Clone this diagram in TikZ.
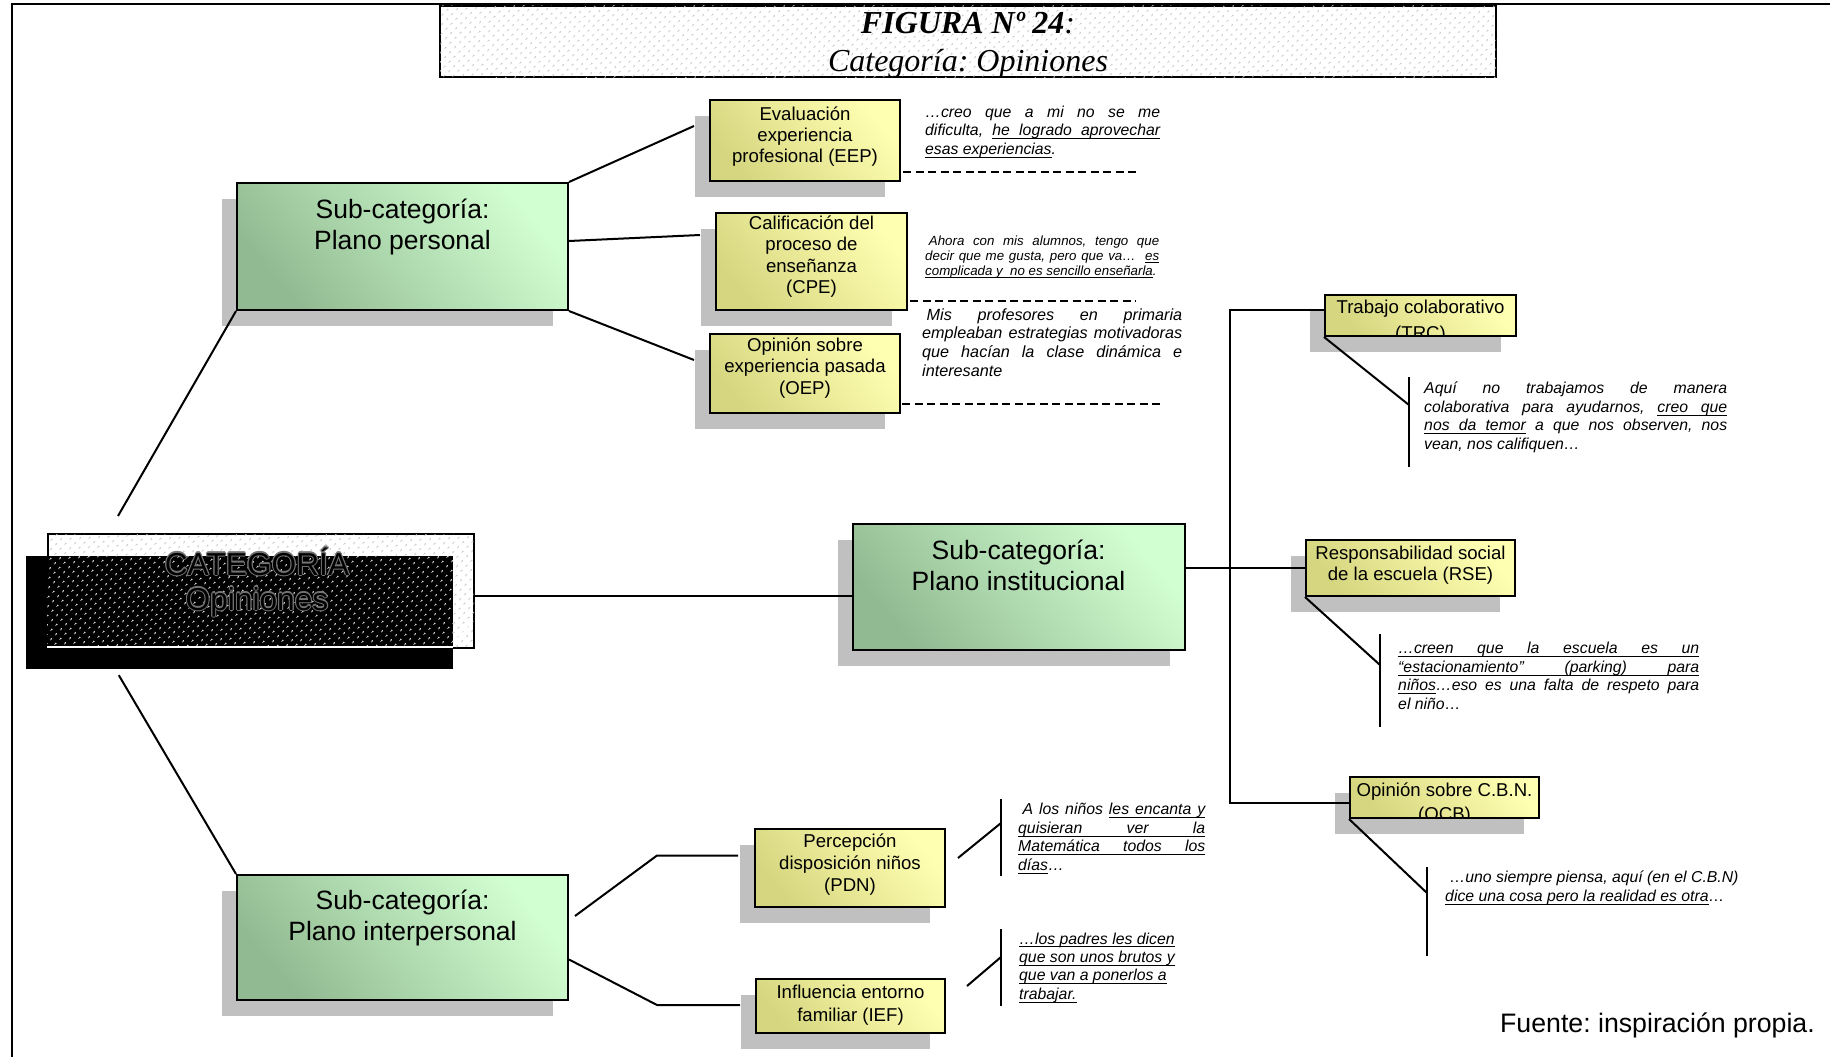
\documentclass[tikz,border=0pt]{standalone}
\usepackage{fontspec}
\setmainfont{Liberation Sans}
\newfontfamily\titlefont{Liberation Serif}
\usetikzlibrary{calc,patterns.meta}

\definecolor{shadowc}{RGB}{192,192,192}
\definecolor{gdark}{RGB}{146,186,146}
\definecolor{glight}{RGB}{210,255,210}
\definecolor{ydark}{RGB}{214,214,128}
\definecolor{ylight}{RGB}{255,255,178}
\definecolor{dotc}{RGB}{196,196,196}

\frenchspacing

% justified quote lines: stretchable spaces, plain or underlined
\newdimen\qwidth
\newcommand\js{\hskip .278em plus 1fill\relax}
\newcommand\ujs{\leaders\hrule height -0.15em depth 0.22em\hskip .278em plus 1fill\relax}
\newcommand\uw[1]{\setbox0\hbox{#1}\rlap{\rule[-0.22em]{\wd0}{0.07em}}\box0}
\newcommand\jl[1]{\hbox to \qwidth{#1}}
\newcommand\ql[2]{\qwidth=#1\relax\vtop{#2}}
% centred multi-line label whose baseline is that of its first line
\newcommand\cl[1]{\vtop{\halign{\hfil##\hfil\cr#1\crcr}}}

\tikzset{
  conn/.style={line width=2pt},
  dashline/.style={line width=2pt, dash pattern=on 8pt off 4.5pt},
  gbox/.style={draw=black, line width=2pt, inner sep=0pt,
    bottom color=gdark, top color=glight, shading angle=-50},
  ybox/.style={draw=black, line width=2pt, inner sep=0pt,
    bottom color=ydark, top color=ylight, shading angle=-50},
  dotbox/.style={draw=black, line width=2pt, inner sep=0pt, fill=white,
    postaction={pattern={Dots[distance=6.5pt,angle=45,radius=1.1pt]}, pattern color=dotc}},
  glabel/.style={anchor=base, inner sep=0pt, font=\fontsize{26.5pt}{31.5pt}\selectfont},
  ylabel/.style={anchor=base, inner sep=0pt, font=\fontsize{18.6pt}{21.5pt}\selectfont},
  quote/.style={anchor=base west, inner sep=0pt, font=\fontsize{15.8pt}{18.7pt}\selectfont\itshape},
  cattext/.style={anchor=base, inner sep=0pt, font=\fontsize{31.7pt}{35pt}\selectfont},
}

% shadowed box: name, style, x1, y1, x2, y2
\newcommand\panel[6]{%
  \fill[shadowc] ({#3-15},{#4+16}) rectangle ({#5-15},{#6+16});
  \node[#2, minimum width={#5-#3}, minimum height={#6-#4}] (#1) at ({(#3+#5)/2},{(#4+#6)/2}) {};
}

\begin{document}
\begin{tikzpicture}[x=1pt,y=-1pt]
\useasboundingbox (0,0) rectangle (1830,1057);

% page frame
\draw[line width=2pt] (12,1057) -- (12,4) -- (1830,4);

% heading
\node[dotbox, minimum width=1056pt, minimum height=71pt] (head) at (968,41.5) {};
\node[anchor=base, inner sep=0pt, font=\titlefont\fontsize{32pt}{38pt}\selectfont\bfseries\itshape]
  (head1) at (968,33.5) {FIGURA Nº 24\textmd{:}};
\node[anchor=base, inner sep=0pt, font=\titlefont\fontsize{32pt}{38pt}\selectfont\itshape]
  (head2) at (968,71) {Categoría: Opiniones};

% main category box with its black offset block
\node[dotbox, minimum width=426pt, minimum height=114pt] (cat) at (261,591) {};
\node[fill=black, inner sep=0pt, minimum width=427pt, minimum height=113pt] (blk) at (239.5,612.5) {};
\fill[pattern={Dots[distance=6.5pt,angle=45,radius=1.1pt]}, pattern color=white]
  (cat.west |- blk.north) rectangle (453,645);
\draw[white, line width=1.5pt] (cat.west |- 0,647) -- (453,647);
\foreach \a in {0,45,...,315}
  \node[cattext, text=black!55] (cat-o\a) at ($(257,575)+(\a:1.1)$) {\cl{CATEGORÍA\cr Opiniones}};
\node[cattext] (cat-t) at (257,575) {\cl{CATEGORÍA\cr Opiniones}};

% sub-category and code boxes
\panel{pp}{gbox}{237}{183}{568}{310}
\panel{pi}{gbox}{853}{524}{1185}{650}
\panel{pint}{gbox}{237}{875}{568}{1000}
\panel{eep}{ybox}{710}{100}{900}{181}
\panel{cpe}{ybox}{716}{213}{907}{310}
\panel{oep}{ybox}{710}{334}{900}{413}
\panel{trc}{ybox}{1325}{295}{1516}{336}
\panel{rse}{ybox}{1306}{540}{1515}{596}
\panel{ocb}{ybox}{1350}{777}{1539}{818}
\panel{pdn}{ybox}{755}{829}{945}{907}
\panel{ief}{ybox}{756}{979}{945}{1033}

% connectors: personal plane
\draw[conn] (pp.north east) -- ($(eep.west)+(-15,-14.5)$);
\draw[conn] ($(pp.east)+(0,-5.5)$) -- ($(cpe.west)+(-15,-26.5)$);
\draw[conn] (pp.south east) -- ($(oep.west)+(-15,-13.5)$);
\draw[conn] (pp.south west) -- ($(cat.north west)+(71,-17)$);
\draw[conn] ($(blk.south west)+(93,6)$) -- (pint.north west);
\draw[conn] ($(cat.east)+(0,5)$) -- ($(pi.west)+(0,9)$);

% connectors: institutional plane
\draw[conn] (pi.east |- rse.west) -- (rse.west);
\draw[conn] ($(trc.west)+(0,-5.5)$) -- ++(-94,0) |- ($(ocb.west)+(0,5.5)$);
\coordinate (trc-j) at ($(trc.south west)+(85,68)$);
\coordinate (trc-a) at ($(trc.south west)+(85,40)$);
\coordinate (trc-b) at ($(trc.south west)+(85,130)$);
\draw[conn] (trc.south west) -- (trc-j);
\draw[conn] (trc-a) -- (trc-b);
\coordinate (rse-j) at ($(rse.south west)+(75,68)$);
\coordinate (rse-a) at ($(rse.south west)+(75,37)$);
\coordinate (rse-b) at ($(rse.south west)+(75,130)$);
\draw[conn] (rse.south west) -- (rse-j);
\draw[conn] (rse-a) -- (rse-b);
\coordinate (ocb-j) at ($(ocb.south west)+(78,74)$);
\coordinate (ocb-a) at ($(ocb.south west)+(78,48)$);
\coordinate (ocb-b) at ($(ocb.south west)+(78,137)$);
\draw[conn] (ocb.south west) -- (ocb-j);
\draw[conn] (ocb-a) -- (ocb-b);

% connectors: interpersonal plane
\draw[conn] ($(pint.east)+(6,-21.5)$) -- ($(pdn.west)+(-97,-12.5)$) -- ($(pdn.west)+(-16,-12.5)$);
\draw[conn] ($(pint.east)+(0,22)$) -- ($(ief.west)+(-98,-1)$) -- ($(ief.west)+(-15,-1)$);
\draw[conn] ($(pdn.east)+(12,-10)$) -- ($(pdn.east)+(55,-45)$);
\draw[conn] ($(pdn.east)+(55,-69)$) -- ($(pdn.east)+(55,8)$);
\draw[conn] ($(ief.east)+(21,-20)$) -- ($(ief.east)+(55,-49)$);
\draw[conn] ($(ief.east)+(55,-77)$) -- ($(ief.east)+(55,0)$);

% dashed rules under the personal-plane quotes
\draw[dashline] ($(eep.east)+(2,31)$) -- ++(236,0);
\draw[dashline] ($(cpe.east)+(2,39)$) -- ++(226,0);
\draw[dashline] ($(oep.east)+(1,30.5)$) -- ++(259,0);

% box labels
\node[glabel] (pp-t) at (402.5,218) {\cl{Sub-categoría:\cr Plano personal}};
\node[glabel] (pi-t) at (1018.5,559) {\cl{Sub-categoría:\cr Plano institucional}};
\node[glabel] (pint-t) at (402.5,909) {\cl{Sub-categoría:\cr Plano interpersonal}};
\node[ylabel, font=\fontsize{18.6pt}{21pt}\selectfont] (eep-t) at (805,120) {\cl{Evaluación\cr experiencia\cr profesional (EEP)}};
\node[ylabel] (cpe-t) at (811.5,229) {\cl{Calificación del\cr proceso de\cr enseñanza\cr (CPE)}};
\node[ylabel] (oep-t) at (805,351) {\cl{Opinión sobre\cr experiencia pasada\cr (OEP)}};
\node[ylabel, font=\fontsize{18.6pt}{21pt}\selectfont] (rse-t) at (1410.5,559) {\cl{Responsabilidad social\cr de la escuela (RSE)}};
\node[ylabel, font=\fontsize{18.6pt}{22pt}\selectfont] (pdn-t) at (850,847) {\cl{Percepción\cr disposición niños\cr (PDN)}};
\node[ylabel, font=\fontsize{18.6pt}{23pt}\selectfont] (ief-t) at (850.5,998) {\cl{Influencia entorno\cr familiar (IEF)}};
\begin{scope}
  \clip ($(trc.north west)+(1,1)$) rectangle ($(trc.south east)+(-1,-1)$);
  \node[ylabel, font=\fontsize{18.6pt}{26pt}\selectfont] (trc-t) at (1420.5,313.5) {\cl{Trabajo colaborativo\cr(TRC)}};
\end{scope}
\begin{scope}
  \clip ($(ocb.north west)+(1,1)$) rectangle ($(ocb.south east)+(-1,-1)$);
  \node[ylabel, font=\fontsize{18.6pt}{24pt}\selectfont] (ocb-t) at (1444.5,796) {\cl{Opinión sobre C.B.N.\cr(OCB)}};
\end{scope}

% interview quotes
\node[quote] (q-eep) at (925,117) {\ql{235pt}{%
  \jl{…creo\js que\js a\js mi\js no\js se\js me}
  \jl{dificulta,\js \uw{he}\ujs\uw{logrado}\ujs\uw{aprovechar}}
  \hbox{\uw{esas experiencias}.}}};
\node[quote, font=\fontsize{13.3pt}{14.9pt}\selectfont\itshape] (q-cpe) at (925,245.5) {\ql{234pt}{%
  \jl{\hskip .278em Ahora\js con\js mis\js alumnos,\js tengo\js que}
  \jl{decir\js que\js me\js gusta,\js pero\js que\js va…\js\js\uw{es}}
  \hbox{\uw{complicada y\ \ no es sencillo enseñarla}.}}};
\node[quote, font=\fontsize{16.2pt}{18.8pt}\selectfont\itshape] (q-oep) at (922,320) {\ql{260pt}{%
  \jl{\hskip .278em Mis\js profesores\js en\js primaria}
  \jl{empleaban\js estrategias\js motivadoras}
  \jl{que\js hacían\js la\js clase\js dinámica\js e}
  \hbox{interesante}}};
\node[quote] (q-trc) at (1424,393.5) {\ql{303pt}{%
  \jl{Aquí\js no\js trabajamos\js de\js manera}
  \jl{colaborativa\js para\js ayudarnos,\js \uw{creo}\ujs\uw{que}}
  \jl{\uw{nos}\ujs\uw{da}\ujs\uw{temor}\js a\js que\js nos\js observen,\js nos}
  \hbox{vean, nos califiquen…}}};
\node[quote] (q-rse) at (1398,653.5) {\ql{301pt}{%
  \jl{\uw{…creen}\ujs\uw{que}\ujs\uw{la}\ujs\uw{escuela}\ujs\uw{es}\ujs\uw{un}}
  \jl{\uw{“estacionamiento”}\ujs\uw{(parking)}\ujs\uw{para}}
  \jl{\uw{niños}…eso\js es\js una\js falta\js de\js respeto\js para}
  \hbox{el niño…}}};
\node[quote] (q-ocb) at (1445,882.5) {\ql{300pt}{%
  \hbox{\ …uno siempre piensa, aquí (en el C.B.N)}
  \hbox{\uw{dice una cosa pero la realidad es otra}…}}};
\node[quote] (q-pdn) at (1018,814.5) {\ql{187pt}{%
  \jl{\hskip .278em A\js los\js niños\js \uw{les}\ujs\uw{encanta}\ujs\uw{y}}
  \jl{\uw{quisieran}\ujs\uw{ver}\ujs\uw{la}}
  \jl{\uw{Matemática}\ujs\uw{todos}\ujs\uw{los}}
  \hbox{\uw{días}…}}};
\node[quote, font=\fontsize{15.8pt}{18.4pt}\selectfont\itshape] (q-ief) at (1019,944) {\ql{200pt}{%
  \hbox{\uw{…los padres les dicen}}
  \hbox{\uw{que son unos brutos y}}
  \hbox{\uw{que van a ponerlos a}}
  \hbox{\uw{trabajar.}}}};

% source note
\node[anchor=base east, inner sep=0pt, font=\fontsize{26.7pt}{32pt}\selectfont] (src) at (1815,1032) {Fuente: inspiración propia.};
\end{tikzpicture}
\end{document}
